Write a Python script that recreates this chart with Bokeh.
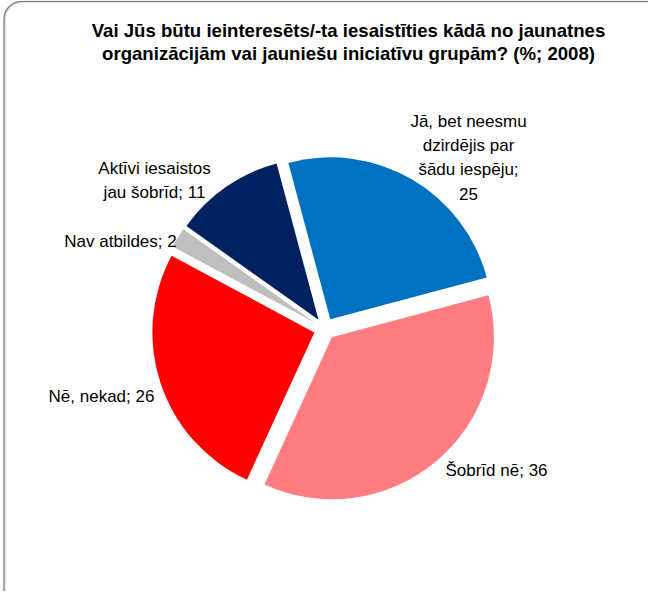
import math
from bokeh.plotting import figure
from bokeh.models import Range1d, ColumnDataSource
from bokeh.core.properties import value
from bokeh.embed import file_html
from bokeh.resources import INLINE

# ---- data ----
categories = ["Jā, bet neesmu\ndzirdējis par\nšādu iespēju", "Šobrīd nē", "Nē, nekad",
              "Nav atbildes", "Aktīvi iesaistos\njau šobrīd"]
values = [25, 36, 26, 2, 11]
separators = [";\n", "; ", "; ", "; ", "; "]
colors = ["#0070C0", "#FF7C80", "#FF0000", "#BFBFBF", "#002060"]
title_lines = ["Vai Jūs būtu ieinteresēts/-ta iesaistīties kādā no jaunatnes",
               "organizācijām vai jauniešu iniciatīvu grupām? (%; 2008)"]

# ---- layout (screen pixels) ----
W, H = 648, 591
PAGE_H = 607
def sy(y):
    return PAGE_H - y

cx, cy = 332.3, 336.4     # pie centre (screen)
R = 162                   # radius px
EXPLODE = 11              # explosion offset px
START_DEG = 105           # first slice starts here, slices go clockwise

label_anchor = [(476, 129), (504, 478), (109, 404), (128, 249), (162, 176)]  # first baseline
LINE_H = 24
FONT = "Liberation Sans"

p = figure(width=W, height=H, output_backend="svg", toolbar_location=None,
           x_range=Range1d(8, 8 + W), y_range=Range1d(PAGE_H - 8 - H, PAGE_H - 8),
           min_border=0)
p.axis.visible = False
p.grid.visible = False
p.outline_line_color = None
p.background_fill_color = "white"
p.border_fill_color = "white"

# frame (rounded box; right and bottom edges fall outside the view)
p.quad(left=[12.5], right=[720], top=[sy(9.5)], bottom=[sy(640)], fill_color=None,
       line_color="#D9D9D9", line_width=1.5, border_radius=18)
p.quad(left=[11.5], right=[720], top=[sy(8.8)], bottom=[sy(640)], fill_color=None,
       line_color="#7F7F7F", line_width=1.3, border_radius=18)

# wedges
total = float(sum(values))
xs, ys, sa, ea = [], [], [], []
cum = 0.0
for v in values:
    a_end = math.radians(START_DEG - cum / total * 360)
    cum += v
    a_start = math.radians(START_DEG - cum / total * 360)
    mid = (a_start + a_end) / 2
    xs.append(cx + EXPLODE * math.cos(mid))
    ys.append(sy(cy) + EXPLODE * math.sin(mid))
    sa.append(a_start)
    ea.append(a_end)

src = ColumnDataSource(dict(x=xs, y=ys, start=sa, end=ea, color=colors))
p.wedge(x="x", y="y", radius=R, radius_units="screen", start_angle="start",
        end_angle="end", direction="anticlock", fill_color="color",
        line_color=None, source=src)

# data labels
lx, ly, lt = [], [], []
for cat, v, sep, (ax, ay) in zip(categories, values, separators, label_anchor):
    lines = (cat + sep + str(v)).split("\n")
    for i, ln in enumerate(lines):
        lx.append(ax)
        ly.append(sy(ay + i * LINE_H))
        lt.append(ln)
p.text(x=lx, y=ly, text=lt, text_align="center", text_baseline="alphabetic",
       text_font=value(FONT), text_font_size="17px", text_color="#000000")

# title
p.text(x=[356, 356], y=[sy(38), sy(61.3)], text=title_lines, text_align="center",
       text_baseline="alphabetic", text_font=value(FONT), text_font_style="bold",
       text_font_size="18.6px", text_color="#000000")

open("out.html", "w").write(file_html(p, INLINE))
